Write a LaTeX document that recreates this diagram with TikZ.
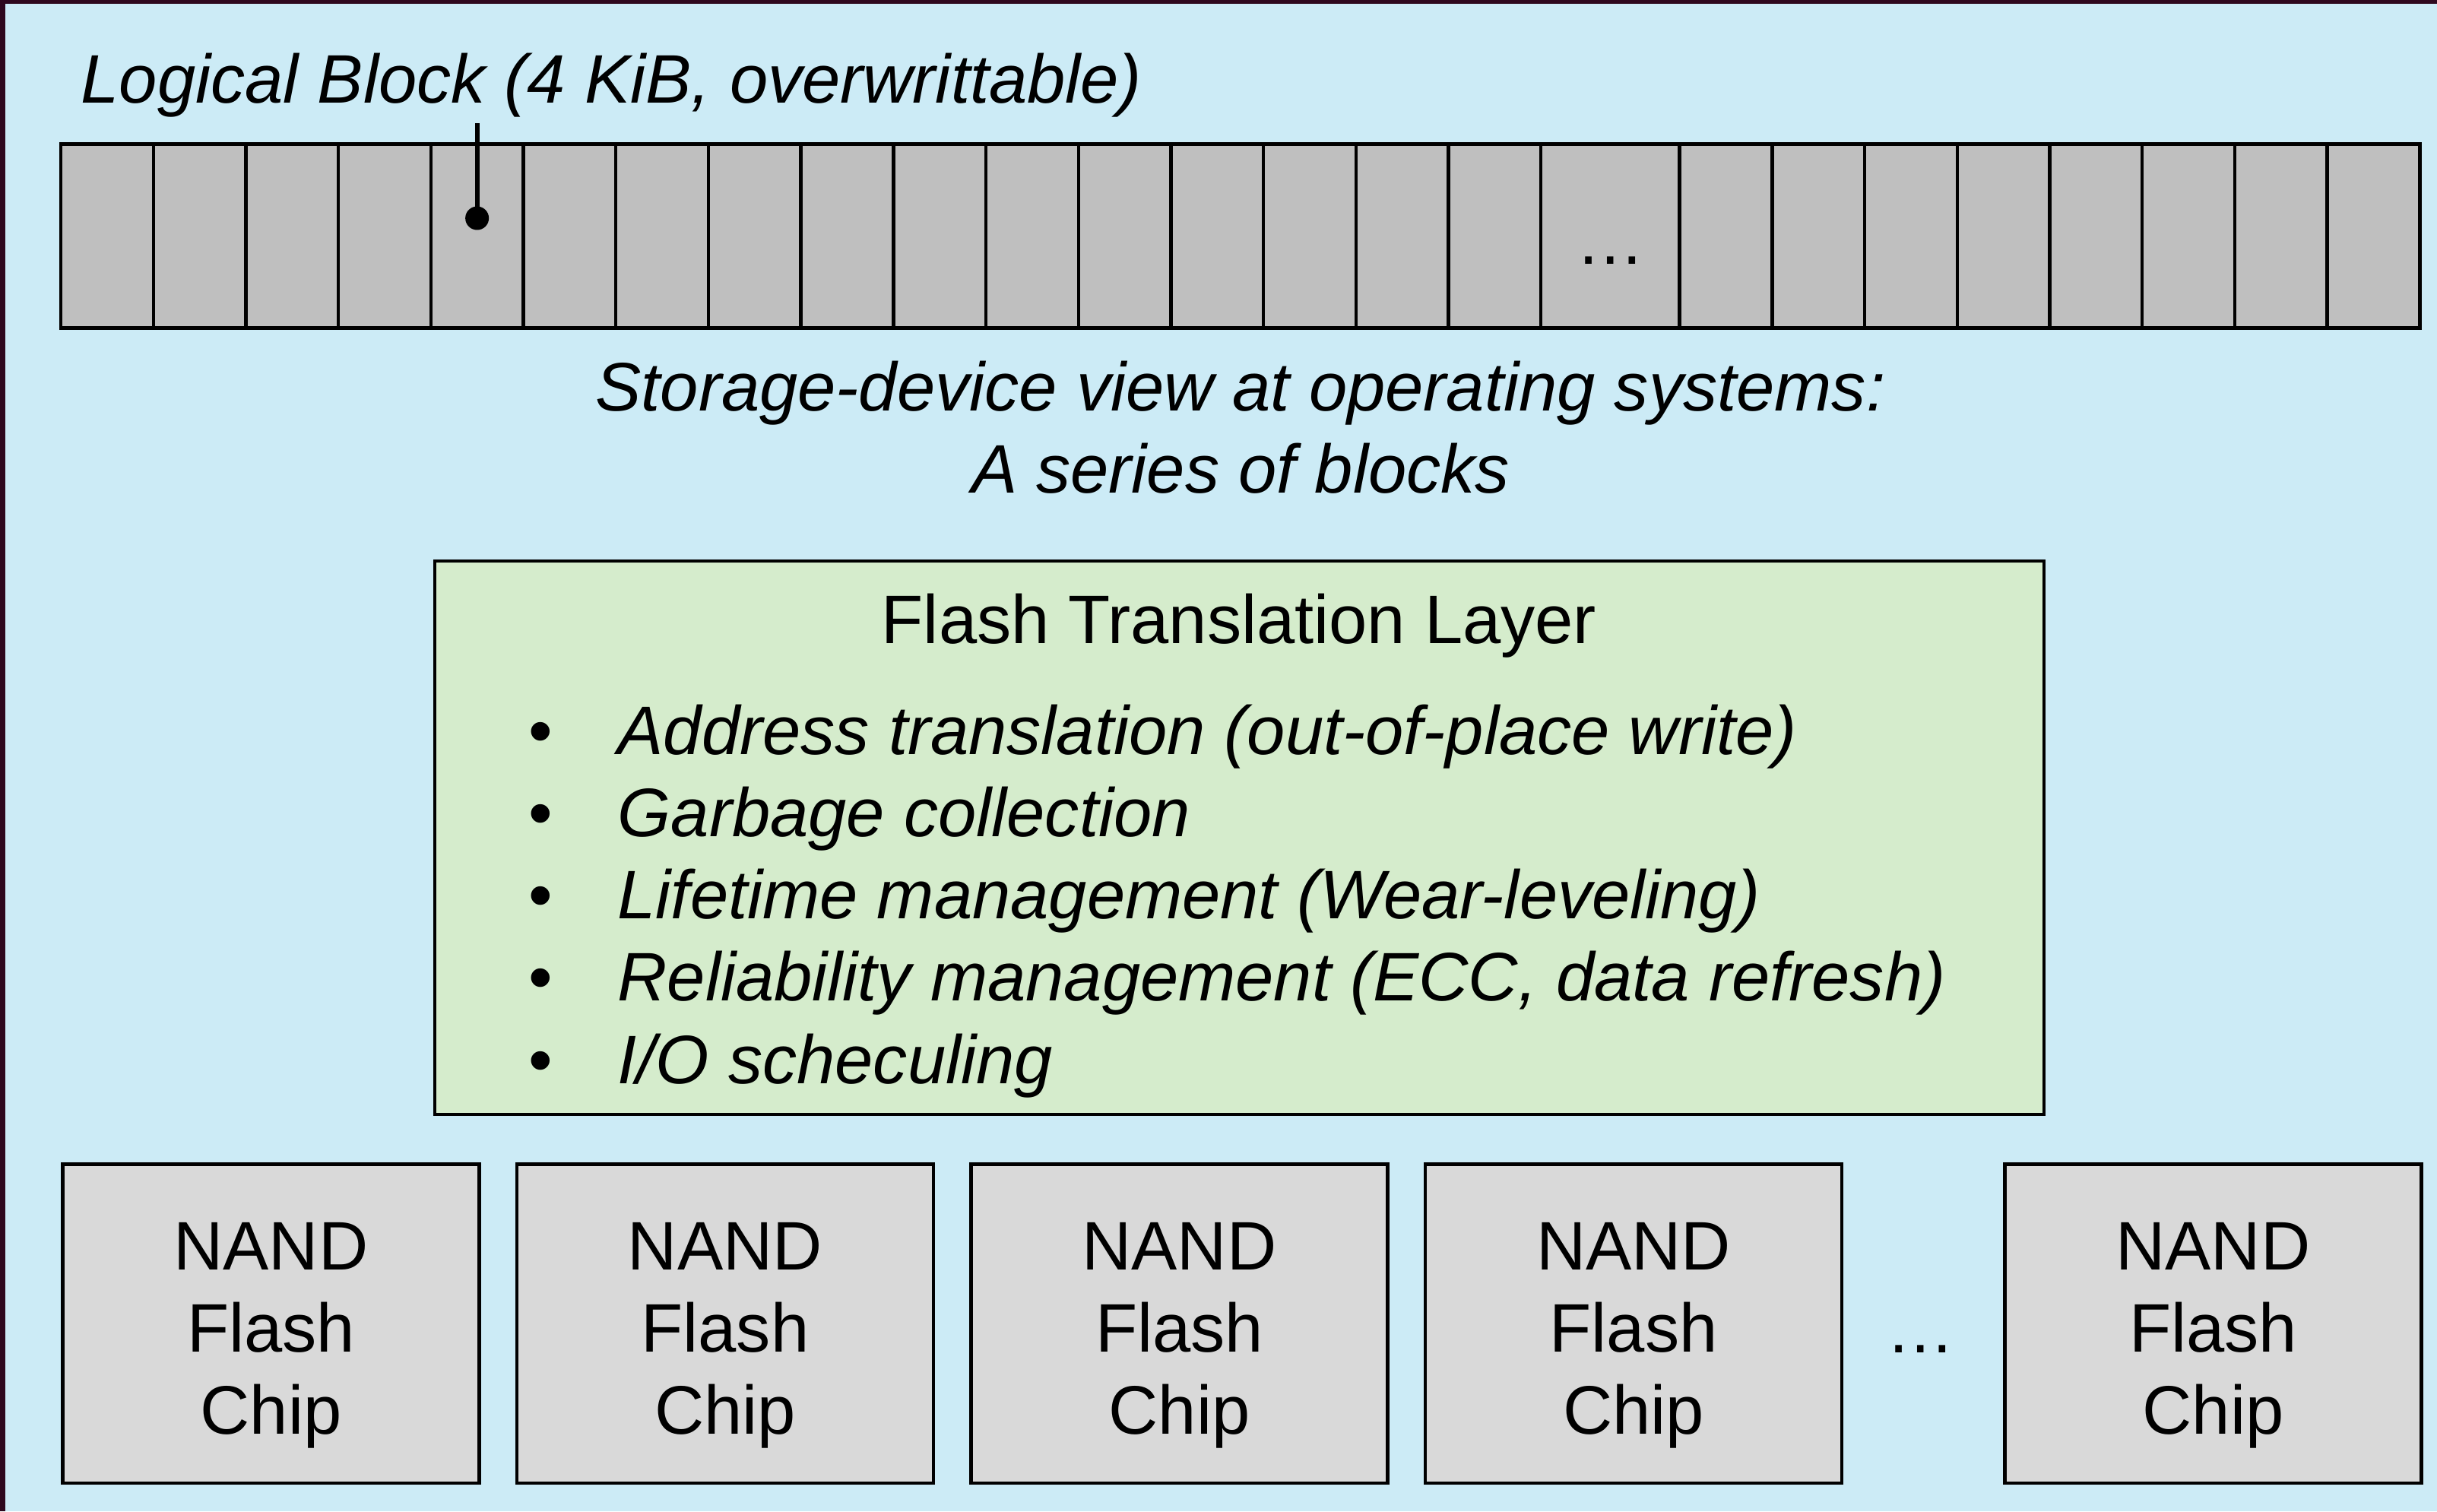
\documentclass[tikz,border=0pt]{standalone}
\usepackage{fontspec}
\setmainfont{Liberation Sans}
\usetikzlibrary{positioning}

\definecolor{slidebg}{RGB}{204,235,246}
\definecolor{slideedge}{RGB}{46,8,30}
\definecolor{blockgray}{RGB}{191,191,191}
\definecolor{ftlgreen}{RGB}{213,236,204}
\definecolor{chipgray}{RGB}{217,217,217}

\tikzset{
  slidetext/.style={inner sep=0pt, font=\fontsize{25.7pt}{30.7pt}\selectfont},
  slideitalic/.style={slidetext, font=\fontsize{25.7pt}{30.7pt}\selectfont\itshape},
  cell/.style={draw, line width=1.25pt, fill=blockgray, minimum height=2.42cm,
    inner sep=0pt, outer sep=0pt},
  chip/.style={draw, line width=1.4pt, fill=chipgray, minimum width=5.48cm,
    minimum height=4.195cm, inner sep=0pt, anchor=north west},
}

\begin{document}
\begin{tikzpicture}

  % Slide background
  \useasboundingbox (0,0) rectangle (32.06,-19.88);
  \fill[slideedge] (0,0) rectangle (32.06,-19.88);
  \fill[slidebg] (0.07,-0.05) rectangle (32.06,-19.88);

  % Row of logical blocks
  \foreach \i in {1,...,16}
    \node[cell, minimum width=1.217cm] (c\i) at ({0.80+(\i-0.5)*1.217},-3.105) {};
  \node[cell, minimum width=1.8255cm] (cwide) at (21.18,-3.105) {};
  \foreach \i in {17,...,24}
    \node[cell, minimum width=1.217cm] (c\i) at ({0.80+(\i+1)*1.217},-3.105) {};
  \draw[line width=1.4pt] (c1.north west) rectangle (c24.south east);
  \node[slidetext, anchor=base] (rowdots) at (21.19,-3.47) {…};

  % Label with pointer to one block
  \node[slideitalic, anchor=base west] (blocklabel) at (1.06,-1.35)
    {Logical Block (4 KiB, overwrittable)};
  \path (c5.center |- blocklabel.south) ++(0,-0.08) coordinate (ptrtop);
  \coordinate (ptr) at ([yshift=0.235cm]c5.center);
  \draw[line width=1.7pt] (ptrtop) -- (ptr);
  \fill (ptr) circle (0.155);

  % Caption under the row
  \node[slideitalic, align=center, anchor=base] (osview) at (16.32,-6.48)
    {Storage-device view at operating systems:\\A series of blocks};

  % Flash translation layer
  \node[draw, line width=1.4pt, fill=ftlgreen, minimum width=21.17cm,
    minimum height=7.28cm, inner sep=0pt] (ftl) at (16.305,-11.02) {};
  \node[slidetext, anchor=base] (ftltitle) at (16.30,-8.465) {Flash Translation Layer};
  \foreach \t [count=\k from 0] in {Address translation (out-of-place write),
      Garbage collection, Lifetime management (Wear-leveling),
      Reliability management (ECC{,} data refresh), I/O scheculing} {
    \node[slidetext, anchor=base] (bul\k) at (7.115,{-9.92-1.083*\k}) {\textbullet};
    \node[slideitalic, anchor=base west] (item\k) at (8.12,{-9.92-1.083*\k}) {\t};
  }

  % NAND flash chips
  \foreach \x/\n in {0.80/1, 6.775/2, 12.75/3, 18.725/4, 26.35/5} {
    \node[chip] (chip\n) at (\x,-15.29) {};
    \node[slidetext, align=center] (chiptext\n) at ([yshift=-0.155cm]chip\n.center)
      {NAND\\Flash\\Chip};
  }
  \node[slidetext, anchor=base] (chipdots) at (25.27,-17.79) {…};

\end{tikzpicture}
\end{document}
